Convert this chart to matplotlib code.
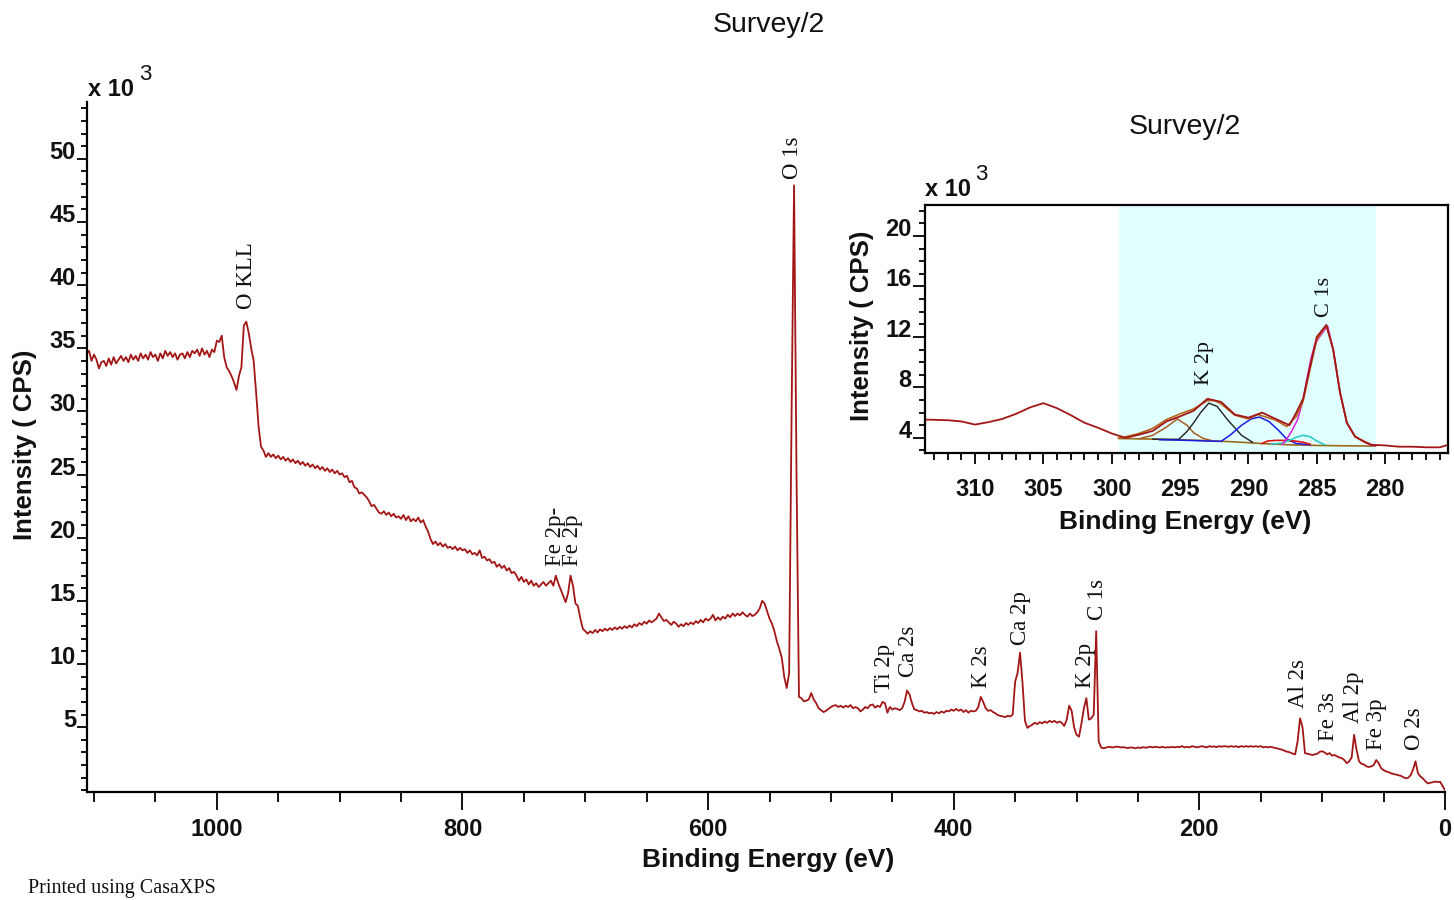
import numpy as np
import matplotlib
matplotlib.use("Agg")
import matplotlib.pyplot as plt
from matplotlib.ticker import MultipleLocator

W, H = 1454, 900

# Survey spectrum, intensity in 10^3 CPS on a 2 eV grid starting at 0 eV
survey_step = 2.0
cps_0000_0098 = [
    0.02, 0.35, 0.68, 0.66, 0.70, 0.64, 0.60, 0.55, 0.72, 0.95,
    1.10, 1.35, 2.30, 1.65, 1.20, 1.00, 0.95, 1.05, 1.15, 1.20,
    1.25, 1.30, 1.35, 1.45, 1.50, 1.60, 1.75, 2.15, 2.40, 2.00,
    1.90, 1.85, 1.90, 2.05, 2.10, 2.30, 3.20, 4.40, 2.60, 2.30,
    2.15, 2.40, 2.55, 2.60, 2.70, 2.80, 2.75, 2.95, 2.85, 3.00]
cps_0100_0198 = [
    3.10, 3.05, 2.90, 2.85, 2.80, 2.85, 2.90, 2.95, 5.00, 5.70,
    3.90, 2.85, 2.90, 3.00, 3.05, 3.10, 3.20, 3.25, 3.30, 3.35,
    3.40, 3.45, 3.40, 3.45, 3.40, 3.50, 3.45, 3.50, 3.45, 3.50,
    3.45, 3.50, 3.45, 3.50, 3.42, 3.50, 3.45, 3.50, 3.45, 3.48,
    3.50, 3.45, 3.50, 3.42, 3.48, 3.45, 3.50, 3.40, 3.45, 3.50]
cps_0200_0298 = [
    3.45, 3.40, 3.45, 3.50, 3.40, 3.45, 3.40, 3.50, 3.42, 3.45,
    3.40, 3.45, 3.40, 3.42, 3.38, 3.45, 3.40, 3.42, 3.45, 3.40,
    3.46, 3.40, 3.38, 3.42, 3.35, 3.40, 3.33, 3.38, 3.40, 3.35,
    3.38, 3.42, 3.40, 3.45, 3.46, 3.40, 3.42, 3.45, 3.38, 3.33,
    3.40, 3.90, 12.6, 6.00, 5.70, 5.60, 7.30, 6.50, 5.30, 4.25]
cps_0300_0398 = [
    4.40, 5.00, 6.30, 6.70, 5.60, 5.10, 5.35, 5.45, 5.35, 5.50,
    5.40, 5.50, 5.35, 5.45, 5.30, 5.40, 5.25, 5.35, 5.20, 5.10,
    4.95, 5.50, 8.50, 10.9, 9.30, 8.60, 6.00, 5.85, 5.90, 5.80,
    5.85, 5.90, 5.95, 6.10, 6.20, 6.35, 6.30, 6.50, 7.00, 7.40,
    6.60, 6.30, 6.25, 6.30, 6.15, 6.35, 6.20, 6.40, 6.30, 6.45]
cps_0400_0498 = [
    6.30, 6.40, 6.25, 6.30, 6.15, 6.25, 6.10, 6.20, 6.05, 6.15,
    6.10, 6.20, 6.15, 6.30, 6.25, 6.35, 6.40, 6.90, 7.60, 7.90,
    7.00, 6.50, 6.35, 6.45, 6.50, 6.40, 6.60, 6.15, 6.90, 7.00,
    6.60, 6.70, 6.55, 6.80, 6.75, 6.50, 6.60, 6.40, 6.25, 6.50,
    6.60, 6.50, 6.75, 6.60, 6.70, 6.55, 6.70, 6.60, 6.75, 6.70]
cps_0500_0598 = [
    6.60, 6.45, 6.30, 6.20, 6.35, 6.50, 6.90, 7.20, 7.70, 7.20,
    7.10, 7.05, 7.30, 7.40, 25.0, 47.9, 30.0, 9.30, 8.10, 9.00,
    10.5, 11.2, 11.8, 12.6, 13.2, 13.6, 14.2, 14.8, 15.0, 14.4,
    14.1, 13.9, 13.8, 14.0, 13.75, 13.9, 14.1, 13.85, 14.0, 13.8,
    14.0, 13.7, 13.9, 13.6, 13.75, 13.5, 13.7, 13.45, 13.9, 13.6]
cps_0600_0698 = [
    13.45, 13.6, 13.3, 13.5, 13.25, 13.4, 13.15, 13.3, 13.1, 13.25,
    13.0, 13.15, 12.95, 13.2, 13.35, 13.1, 13.3, 13.5, 13.4, 13.7,
    14.0, 13.6, 13.45, 13.3, 13.45, 13.2, 13.35, 13.1, 13.25, 13.0,
    13.15, 12.9, 13.05, 12.85, 13.0, 12.8, 12.95, 12.75, 12.9, 12.7,
    12.85, 12.65, 12.8, 12.6, 12.75, 12.5, 12.7, 12.45, 12.6, 12.4]
cps_0700_0798 = [
    12.6, 12.8, 13.6, 14.6, 14.8, 16.2, 17.0, 15.6, 14.9, 15.4,
    15.9, 16.4, 17.0, 16.2, 16.6, 16.4, 16.2, 16.5, 16.3, 16.1,
    16.4, 16.2, 16.6, 16.3, 16.7, 16.5, 16.9, 16.6, 17.0, 17.3,
    17.2, 17.6, 17.4, 17.8, 17.6, 17.9, 17.7, 18.1, 18.0, 18.3,
    18.2, 18.5, 18.4, 19.0, 18.6, 18.8, 18.7, 19.0, 18.8, 19.1]
cps_0800_0898 = [
    19.0, 19.2, 19.0, 19.3, 19.1, 19.3, 19.2, 19.5, 19.3, 19.6,
    19.4, 19.7, 19.5, 19.9, 20.5, 20.9, 21.4, 21.2, 21.6, 21.3,
    21.5, 21.3, 21.7, 21.4, 21.8, 21.5, 21.7, 21.6, 21.9, 21.7,
    22.0, 21.8, 22.1, 21.9, 22.0, 22.3, 22.6, 22.5, 22.9, 23.2,
    23.4, 23.6, 23.5, 23.9, 24.0, 24.5, 24.4, 24.9, 24.8, 25.1]
cps_0900_0998 = [
    25.0, 25.3, 25.1, 25.4, 25.2, 25.5, 25.3, 25.6, 25.4, 25.7,
    25.5, 25.8, 25.6, 25.9, 25.7, 26.0, 25.8, 26.1, 25.9, 26.2,
    26.0, 26.3, 26.1, 26.4, 26.2, 26.5, 26.3, 26.6, 26.4, 26.7,
    26.4, 26.9, 27.2, 28.8, 31.5, 34.0, 35.0, 36.2, 37.1, 36.8,
    33.5, 32.8, 31.7, 32.3, 32.8, 33.2, 33.5, 34.3, 36.0, 35.5]
cps_1000_1118 = [
    35.6, 34.7, 34.9, 34.3, 34.8, 34.5, 35.0, 34.4, 34.9, 34.6,
    34.8, 34.3, 34.7, 34.2, 34.6, 34.5, 34.1, 34.6, 34.3, 34.7,
    34.4, 34.8, 34.2, 34.6, 34.0, 34.5, 34.3, 34.7, 34.1, 34.5,
    34.2, 34.6, 34.0, 34.4, 34.1, 34.5, 33.9, 34.3, 34.0, 34.4,
    34.1, 33.8, 34.3, 33.7, 34.2, 33.6, 34.0, 33.9, 33.4, 34.1,
    34.5, 34.0, 34.8, 34.6, 34.4, 34.5, 34.3, 34.6, 34.4, 34.5]

# peak annotations: name, binding energy (eV), label base (10^3 CPS)
# (the two Fe 2p labels share one text block, one line per column)
peak_names = ["O KLL", "Fe 2p-\nFe 2p", "O 1s", "Ti 2p", "Ca 2s", "K 2s",
              "Ca 2p", "K 2p", "C 1s", "Al 2s", "Fe 3s", "Al 2p", "Fe 3p", "O 2s"]
peak_be = [976, 717.5, 531, 456, 437, 377, 346, 293, 283, 119.5, 95, 74.6, 56, 25]
peak_base = [38.1, 17.8, 48.4, 7.8, 9.0, 8.1, 11.5, 8.1, 13.5, 6.5, 3.9, 5.3, 3.2, 3.2]

# C 1s / K 2p window
be_inset = [313.7, 312, 311, 310, 309, 308, 307, 306, 305, 304, 303, 302, 301,
            300, 299, 298, 297, 296, 295, 294, 293, 292, 291, 290, 289, 288,
            287, 286.5, 286, 285.5, 285, 284.3, 283.8, 283.3, 282.8, 282.2,
            281.5, 281, 280, 279, 278, 277, 276, 275.4]
cps_inset = [5.45, 5.40, 5.30, 5.05, 5.25, 5.50, 5.90, 6.40, 6.75, 6.35, 5.80,
             5.20, 4.80, 4.35, 4.00, 4.25, 4.55, 5.30, 5.70, 6.15, 7.10, 6.85,
             5.85, 5.60, 6.00, 5.50, 5.00, 6.00, 7.10, 9.60, 12.0, 12.95, 11.0,
             7.60, 5.20, 4.10, 3.70, 3.45, 3.40, 3.30, 3.30, 3.25, 3.25, 3.45]
region = (299.5, 280.7)
be_env = [299.5, 299, 298, 297, 296, 295, 294, 293, 292.5, 292, 291, 290, 289.3,
          288, 287.2, 286.5, 286, 285.5, 285, 284.3, 283.8, 283.3, 282.8, 282.2,
          281.5, 281]
cps_env = [3.98, 4.08, 4.35, 4.75, 5.45, 5.90, 6.30, 6.95, 6.95, 6.70, 5.80, 5.50,
           5.85, 5.40, 4.90, 5.70, 6.90, 9.40, 11.8, 12.9, 11.0, 7.60, 5.20, 4.10,
           3.65, 3.45]
be_bg = [299.5, 297, 295, 293, 291, 289, 287, 285, 283, 281, 280.7]
cps_bg = [3.95, 3.90, 3.85, 3.78, 3.68, 3.55, 3.45, 3.40, 3.37, 3.35, 3.35]

# fitted components
be_k2p12 = [298, 297, 296, 295.2, 294.5, 294, 293.3, 292.6]
cps_k2p12 = [3.93, 4.20, 4.85, 5.50, 5.00, 4.40, 3.95, 3.76]
be_k2p32 = [297, 296, 295.1, 294.5, 294, 293.5, 292.9, 292.3, 291.5, 290.5, 289.7]
cps_k2p32 = [3.90, 3.88, 3.88, 4.50, 5.20, 6.00, 6.75, 6.50, 5.40, 4.20, 3.65]
be_co3 = [296.5, 295, 293, 292, 291.3, 290.5, 289.8, 289.2, 288.5, 287.8, 287.2, 286.5, 285.5]
cps_co3 = [3.85, 3.82, 3.75, 3.72, 4.25, 5.00, 5.50, 5.65, 5.30, 4.60, 3.90, 3.55, 3.45]
be_coo = [289, 288.6, 288, 287.3, 286.6, 286, 285.5]
cps_coo = [3.55, 3.75, 3.80, 3.80, 3.75, 3.65, 3.50]
be_co = [288.3, 287.5, 287, 286.5, 286, 285.5, 285, 284.4]
cps_co = [3.50, 3.60, 3.80, 4.05, 4.20, 4.10, 3.75, 3.45]
be_cc = [287.5, 287.2, 286.8, 286.4, 286, 285.7, 285.4, 285.1, 284.8, 284.4, 284.2,
         283.8, 283.3, 282.8, 282.2, 281.5, 281.1, 280.7]
cps_cc = [3.50, 3.90, 4.60, 5.45, 7.00, 8.80, 10.4, 11.5, 12.0, 12.6, 12.85, 11.0,
          7.60, 5.20, 4.10, 3.65, 3.45, 3.38]
inset_names = ["K 2p", "C 1s"]
inset_be = [293.2, 284.4]
inset_base = [8.2, 13.6]

cps_survey = np.concatenate([cps_0000_0098, cps_0100_0198, cps_0200_0298,
                             cps_0300_0398, cps_0400_0498, cps_0500_0598,
                             cps_0600_0698, cps_0700_0798, cps_0800_0898,
                             cps_0900_0998, cps_1000_1118])
be_survey = np.arange(len(cps_survey)) * survey_step

plt.rcParams['font.family'] = ['Liberation Sans', 'DejaVu Sans']
SERIF = 'Liberation Serif'
DATA_RED = '#a31616'
TEXT = '#111111'


def fx(x):
    return x / W


def fy(y):
    return 1 - y / H


def style_ticks(ax, size):
    for lab in ax.get_xticklabels() + ax.get_yticklabels():
        lab.set_fontweight('bold')
        lab.set_fontsize(size)
        lab.set_color(TEXT)
    # y labels sit on top of their tick mark
    for lab in ax.get_yticklabels():
        lab.set_verticalalignment('baseline')


fig = plt.figure(figsize=(W / 100, H / 100), dpi=100)

# main survey
ax = fig.add_axes([fx(87), fy(792), fx(1445) - fx(87), fy(102) - fy(792)])
ax.plot(be_survey, cps_survey, color=DATA_RED, lw=1.3)
ax.set_xlim(1105.7, 0)
ax.set_ylim(-0.13, 54.5)
ax.spines['top'].set_visible(False)
ax.spines['right'].set_visible(False)
for s in ['left', 'bottom']:
    ax.spines[s].set_linewidth(1.6)
ax.set_xticks(np.arange(0, 1001, 200))
ax.xaxis.set_minor_locator(MultipleLocator(50))
ax.set_yticks(np.arange(5, 51, 5))
ax.yaxis.set_minor_locator(MultipleLocator(1))
ax.tick_params(axis='x', which='major', length=13, width=1.3, pad=6)
ax.tick_params(axis='x', which='minor', length=7, width=1.3)
ax.tick_params(axis='y', which='major', length=7.5, width=1.3, pad=0.5)
ax.tick_params(axis='y', which='minor', length=4, width=1.3)
style_ticks(ax, 17)

for name, be, base in zip(peak_names, peak_be, peak_base):
    ax.text(be, base, name, rotation=90, ha='center', va='bottom',
            multialignment='left', linespacing=0.72,
            family=SERIF, fontsize=16.5, color=TEXT)

fig.text(fx(769), fy(25), 'Survey/2', ha='center', va='center', fontsize=20.5, color=TEXT)
fig.text(fx(88), fy(89), 'x 10', ha='left', va='center', fontsize=17, fontweight='bold', color=TEXT)
fig.text(fx(139), fy(74), '3', ha='left', va='center', fontsize=16, color=TEXT)
fig.text(fx(768), fy(860), 'Binding Energy (eV)', ha='center', va='center',
         fontsize=19, fontweight='bold', color=TEXT)
fig.text(fx(25), fy(445), 'Intensity ( CPS)', ha='center', va='center', rotation=90,
         fontsize=18.5, fontweight='bold', color=TEXT)
fig.text(fx(28), fy(889), 'Printed using CasaXPS', ha='left', va='center',
         family=SERIF, fontsize=14.5, color=TEXT)

# inset: C 1s / K 2p region with fitted components
axin = fig.add_axes([fx(925), fy(453), fx(1448) - fx(925), fy(205) - fy(453)])
axin.set_xlim(313.66, 275.4)
axin.set_ylim(2.8, 22.45)
axin.axvspan(region[0], region[1], color='#e0ffff', lw=0, zorder=0)
axin.plot(be_bg, cps_bg, color='#9c6a1c', lw=1.2)
axin.plot(be_k2p12, cps_k2p12, color='#a85a20', lw=1.1)
axin.plot(be_k2p32, cps_k2p32, color='#202020', lw=1.0)
axin.plot(be_co3, cps_co3, color='#1a1ae6', lw=1.1)
axin.plot(be_coo, cps_coo, color='#e01010', lw=1.2)
axin.plot(be_co, cps_co, color='#20c8c8', lw=1.1)
axin.plot(be_cc, cps_cc, color='#e020e0', lw=1.1)
axin.plot(be_env, cps_env, color='#b8651e', lw=1.2)
axin.plot(be_inset, cps_inset, color=DATA_RED, lw=1.3)
for s in axin.spines.values():
    s.set_linewidth(1.6)
axin.set_xticks(np.arange(280, 311, 5))
axin.xaxis.set_minor_locator(MultipleLocator(1))
axin.set_yticks(np.arange(4, 21, 4))
axin.yaxis.set_minor_locator(MultipleLocator(1))
axin.tick_params(axis='x', which='major', length=8, width=1.3, pad=10)
axin.tick_params(axis='x', which='minor', length=5, width=1.3)
axin.tick_params(axis='y', which='major', length=9, width=1.3, pad=0.5)
axin.tick_params(axis='y', which='minor', length=4, width=1.3)
style_ticks(axin, 17)
for name, be, base in zip(inset_names, inset_be, inset_base):
    axin.text(be, base, name, rotation=90, ha='center', va='bottom',
              family=SERIF, fontsize=16, color=TEXT)

fig.text(fx(1185), fy(127), 'Survey/2', ha='center', va='center', fontsize=20.5, color=TEXT)
fig.text(fx(925), fy(190), 'x 10', ha='left', va='center', fontsize=17, fontweight='bold', color=TEXT)
fig.text(fx(975), fy(175), '3', ha='left', va='center', fontsize=16, color=TEXT)
fig.text(fx(1185), fy(522), 'Binding Energy (eV)', ha='center', va='center',
         fontsize=19, fontweight='bold', color=TEXT)
fig.text(fx(862), fy(326), 'Intensity ( CPS)', ha='center', va='center', rotation=90,
         fontsize=18.5, fontweight='bold', color=TEXT)

fig.savefig('out.png', dpi=100, facecolor='white')
